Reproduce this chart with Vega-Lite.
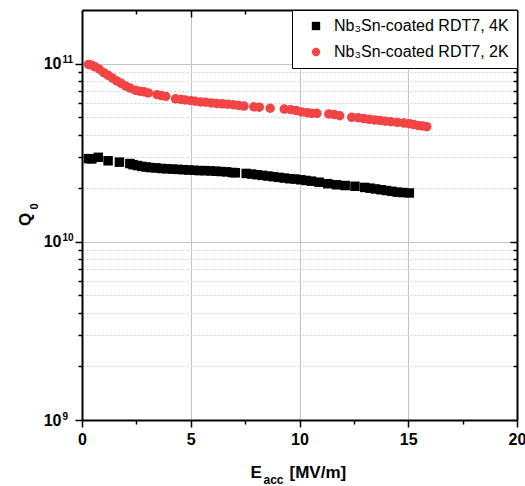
{
  "$schema": "https://vega.github.io/schema/vega-lite/v6.json",
  "width": 435,
  "height": 410,
  "autosize": {"type": "none"},
  "padding": {"left": 82, "top": 10, "right": 8, "bottom": 66},
  "background": "white",
  "config": {
    "font": "Liberation Sans",
    "view": {"stroke": null},
    "axis": {
      "domainColor": "#000000",
      "domainWidth": 2,
      "tickColor": "#000000",
      "tickWidth": 1.5,
      "labelColor": "#000000",
      "labelFont": "Liberation Sans",
      "labelFontWeight": "bold",
      "labelFontSize": 16,
      "titleColor": "#000000",
      "titleFont": "Liberation Sans",
      "titleFontWeight": "bold",
      "titleFontSize": 17
    },
    "legend": {
      "labelFont": "Liberation Sans",
      "labelFontSize": 16,
      "labelColor": "#000000",
      "labelLimit": 400
    }
  },
  "data": {
    "values": [
      {"E": 0.3, "Q": 2.93e10, "T": "4K"},
      {"E": 0.45, "Q": 2.92e10, "T": "4K"},
      {"E": 0.75, "Q": 2.98e10, "T": "4K"},
      {"E": 1.2, "Q": 2.85e10, "T": "4K"},
      {"E": 1.72, "Q": 2.8e10, "T": "4K"},
      {"E": 2.2, "Q": 2.75e10, "T": "4K"},
      {"E": 2.35, "Q": 2.71e10, "T": "4K"},
      {"E": 2.55, "Q": 2.68e10, "T": "4K"},
      {"E": 2.75, "Q": 2.65e10, "T": "4K"},
      {"E": 2.95, "Q": 2.63e10, "T": "4K"},
      {"E": 3.15, "Q": 2.61e10, "T": "4K"},
      {"E": 3.4, "Q": 2.6e10, "T": "4K"},
      {"E": 3.65, "Q": 2.58e10, "T": "4K"},
      {"E": 3.9, "Q": 2.57e10, "T": "4K"},
      {"E": 4.15, "Q": 2.56e10, "T": "4K"},
      {"E": 4.4, "Q": 2.55e10, "T": "4K"},
      {"E": 4.65, "Q": 2.54e10, "T": "4K"},
      {"E": 4.9, "Q": 2.53e10, "T": "4K"},
      {"E": 5.15, "Q": 2.52e10, "T": "4K"},
      {"E": 5.4, "Q": 2.51e10, "T": "4K"},
      {"E": 5.65, "Q": 2.51e10, "T": "4K"},
      {"E": 5.9, "Q": 2.5e10, "T": "4K"},
      {"E": 6.15, "Q": 2.49e10, "T": "4K"},
      {"E": 6.4, "Q": 2.48e10, "T": "4K"},
      {"E": 6.65, "Q": 2.47e10, "T": "4K"},
      {"E": 6.9, "Q": 2.45e10, "T": "4K"},
      {"E": 7.05, "Q": 2.44e10, "T": "4K"},
      {"E": 7.55, "Q": 2.42e10, "T": "4K"},
      {"E": 7.8, "Q": 2.4e10, "T": "4K"},
      {"E": 8.05, "Q": 2.38e10, "T": "4K"},
      {"E": 8.3, "Q": 2.36e10, "T": "4K"},
      {"E": 8.55, "Q": 2.34e10, "T": "4K"},
      {"E": 8.8, "Q": 2.32e10, "T": "4K"},
      {"E": 9.05, "Q": 2.3e10, "T": "4K"},
      {"E": 9.3, "Q": 2.28e10, "T": "4K"},
      {"E": 9.55, "Q": 2.26e10, "T": "4K"},
      {"E": 9.8, "Q": 2.25e10, "T": "4K"},
      {"E": 10.05, "Q": 2.23e10, "T": "4K"},
      {"E": 10.3, "Q": 2.21e10, "T": "4K"},
      {"E": 10.55, "Q": 2.19e10, "T": "4K"},
      {"E": 10.9, "Q": 2.16e10, "T": "4K"},
      {"E": 11.3, "Q": 2.12e10, "T": "4K"},
      {"E": 11.7, "Q": 2.09e10, "T": "4K"},
      {"E": 12.1, "Q": 2.07e10, "T": "4K"},
      {"E": 12.55, "Q": 2.05e10, "T": "4K"},
      {"E": 13.0, "Q": 2.02e10, "T": "4K"},
      {"E": 13.25, "Q": 2.0e10, "T": "4K"},
      {"E": 13.5, "Q": 1.98e10, "T": "4K"},
      {"E": 13.75, "Q": 1.96e10, "T": "4K"},
      {"E": 14.0, "Q": 1.94e10, "T": "4K"},
      {"E": 14.25, "Q": 1.92e10, "T": "4K"},
      {"E": 14.5, "Q": 1.9e10, "T": "4K"},
      {"E": 14.75, "Q": 1.89e10, "T": "4K"},
      {"E": 15.05, "Q": 1.88e10, "T": "4K"},
      {"E": 0.3, "Q": 9.9e10, "T": "2K"},
      {"E": 0.45, "Q": 9.8e10, "T": "2K"},
      {"E": 0.6, "Q": 9.6e10, "T": "2K"},
      {"E": 0.8, "Q": 9.3e10, "T": "2K"},
      {"E": 1.0, "Q": 8.9e10, "T": "2K"},
      {"E": 1.2, "Q": 8.6e10, "T": "2K"},
      {"E": 1.4, "Q": 8.3e10, "T": "2K"},
      {"E": 1.6, "Q": 8.0e10, "T": "2K"},
      {"E": 1.8, "Q": 7.75e10, "T": "2K"},
      {"E": 2.0, "Q": 7.5e10, "T": "2K"},
      {"E": 2.2, "Q": 7.3e10, "T": "2K"},
      {"E": 2.45, "Q": 7.1e10, "T": "2K"},
      {"E": 2.65, "Q": 7.0e10, "T": "2K"},
      {"E": 2.85, "Q": 6.95e10, "T": "2K"},
      {"E": 3.05, "Q": 6.85e10, "T": "2K"},
      {"E": 3.45, "Q": 6.7e10, "T": "2K"},
      {"E": 3.65, "Q": 6.62e10, "T": "2K"},
      {"E": 3.85, "Q": 6.55e10, "T": "2K"},
      {"E": 4.3, "Q": 6.35e10, "T": "2K"},
      {"E": 4.55, "Q": 6.3e10, "T": "2K"},
      {"E": 4.75, "Q": 6.25e10, "T": "2K"},
      {"E": 5.0, "Q": 6.2e10, "T": "2K"},
      {"E": 5.2, "Q": 6.15e10, "T": "2K"},
      {"E": 5.45, "Q": 6.1e10, "T": "2K"},
      {"E": 5.7, "Q": 6.07e10, "T": "2K"},
      {"E": 5.95, "Q": 6.02e10, "T": "2K"},
      {"E": 6.2, "Q": 5.98e10, "T": "2K"},
      {"E": 6.45, "Q": 5.95e10, "T": "2K"},
      {"E": 6.7, "Q": 5.92e10, "T": "2K"},
      {"E": 6.95, "Q": 5.88e10, "T": "2K"},
      {"E": 7.2, "Q": 5.83e10, "T": "2K"},
      {"E": 7.45, "Q": 5.78e10, "T": "2K"},
      {"E": 7.9, "Q": 5.72e10, "T": "2K"},
      {"E": 8.15, "Q": 5.7e10, "T": "2K"},
      {"E": 8.65, "Q": 5.62e10, "T": "2K"},
      {"E": 9.3, "Q": 5.56e10, "T": "2K"},
      {"E": 9.6, "Q": 5.52e10, "T": "2K"},
      {"E": 9.85, "Q": 5.45e10, "T": "2K"},
      {"E": 10.1, "Q": 5.36e10, "T": "2K"},
      {"E": 10.35, "Q": 5.3e10, "T": "2K"},
      {"E": 10.55, "Q": 5.26e10, "T": "2K"},
      {"E": 10.8, "Q": 5.26e10, "T": "2K"},
      {"E": 11.35, "Q": 5.22e10, "T": "2K"},
      {"E": 11.6, "Q": 5.18e10, "T": "2K"},
      {"E": 11.85, "Q": 5.1e10, "T": "2K"},
      {"E": 12.4, "Q": 5.0e10, "T": "2K"},
      {"E": 12.7, "Q": 4.97e10, "T": "2K"},
      {"E": 12.95, "Q": 4.92e10, "T": "2K"},
      {"E": 13.2, "Q": 4.87e10, "T": "2K"},
      {"E": 13.45, "Q": 4.83e10, "T": "2K"},
      {"E": 13.7, "Q": 4.8e10, "T": "2K"},
      {"E": 13.95, "Q": 4.75e10, "T": "2K"},
      {"E": 14.2, "Q": 4.72e10, "T": "2K"},
      {"E": 14.5, "Q": 4.68e10, "T": "2K"},
      {"E": 14.8, "Q": 4.64e10, "T": "2K"},
      {"E": 15.05, "Q": 4.6e10, "T": "2K"},
      {"E": 15.25, "Q": 4.55e10, "T": "2K"},
      {"E": 15.45, "Q": 4.5e10, "T": "2K"},
      {"E": 15.65, "Q": 4.47e10, "T": "2K"},
      {"E": 15.85, "Q": 4.43e10, "T": "2K"}
    ]
  },
  "resolve": {"axis": {"x": "independent", "y": "independent"}},
  "layer": [
    {
      "description": "minor grid lines and minor outer ticks on the bottom and left axes",
      "mark": {"type": "point", "opacity": 0},
      "encoding": {
        "x": {
          "field": "E",
          "type": "quantitative",
          "scale": {"domain": [0, 20], "nice": false, "zero": false},
          "axis": {
            "orient": "bottom",
            "values": [2.5, 7.5, 12.5, 17.5],
            "labels": false,
            "domain": false,
            "grid": false,
            "tickSize": 4,
            "title": null
          }
        },
        "y": {
          "field": "Q",
          "type": "quantitative",
          "scale": {"type": "log", "domain": [1e9, 2e11], "nice": false},
          "axis": {
            "orient": "left",
            "values": [2e9, 3e9, 4e9, 5e9, 6e9, 7e9, 8e9, 9e9, 2e10, 3e10, 4e10, 5e10, 6e10, 7e10, 8e10, 9e10],
            "labels": false,
            "domain": false,
            "tickSize": 4,
            "grid": true,
            "gridColor": "#d4d4d4",
            "gridDash": [2, 2],
            "gridWidth": 1,
            "title": "0",
            "titleFontSize": 11,
            "titleAngle": -90,
            "titleX": -45,
            "titleY": 196,
            "titleAlign": "center",
            "titleBaseline": "alphabetic"
          }
        }
      }
    },
    {
      "description": "powers of ten: exponents beside the left-axis labels",
      "mark": {"type": "point", "opacity": 0},
      "encoding": {
        "x": {"field": "E", "type": "quantitative", "axis": null},
        "y": {
          "field": "Q",
          "type": "quantitative",
          "axis": {
            "orient": "left",
            "values": [1e9, 1e10, 1e11],
            "labelExpr": "datum.value < 5e9 ? '9' : datum.value < 5e10 ? '10' : '11'",
            "labelFontSize": 10,
            "labelAlign": "left",
            "labelBaseline": "middle",
            "labelOffset": -4,
            "labelPadding": 20,
            "labelFlush": false,
            "ticks": false,
            "domain": false,
            "grid": false,
            "title": null
          }
        }
      }
    },
    {
      "description": "major ticks, labels, grid lines and titles on the bottom and left axes",
      "mark": {"type": "point", "opacity": 0},
      "encoding": {
        "x": {
          "field": "E",
          "type": "quantitative",
          "axis": {
            "orient": "bottom",
            "values": [0, 5, 10, 15, 20],
            "labelPadding": 4,
            "labelFlush": false,
            "tickSize": 7,
            "grid": true,
            "gridColor": "#c4c4c4",
            "gridWidth": 1,
            "title": "E",
            "titleX": 168,
            "titleY": 57,
            "titleAlign": "left",
            "titleBaseline": "alphabetic"
          }
        },
        "y": {
          "field": "Q",
          "type": "quantitative",
          "axis": {
            "orient": "left",
            "values": [1e9, 1e10, 1e11],
            "labelExpr": "'10'",
            "labelPadding": 14,
            "labelBaseline": "middle",
            "labelFlush": false,
            "tickSize": 7,
            "grid": true,
            "gridColor": "#c4c4c4",
            "gridWidth": 1,
            "title": "Q",
            "titleAngle": -90,
            "titleX": -52,
            "titleY": 209,
            "titleAlign": "center",
            "titleBaseline": "alphabetic"
          }
        }
      }
    },
    {
      "description": "inward minor ticks on the top and right edges",
      "mark": {"type": "point", "opacity": 0},
      "encoding": {
        "x": {
          "field": "E",
          "type": "quantitative",
          "axis": {
            "orient": "top",
            "values": [2.5, 7.5, 12.5, 17.5],
            "labels": false,
            "domain": false,
            "grid": false,
            "tickSize": -4,
            "title": "acc",
            "titleFontSize": 12,
            "titleX": 181,
            "titleY": 473,
            "titleAlign": "left",
            "titleBaseline": "alphabetic"
          }
        },
        "y": {
          "field": "Q",
          "type": "quantitative",
          "axis": {
            "orient": "right",
            "values": [2e9, 3e9, 4e9, 5e9, 6e9, 7e9, 8e9, 9e9, 2e10, 3e10, 4e10, 5e10, 6e10, 7e10, 8e10, 9e10],
            "labels": false,
            "domain": false,
            "grid": false,
            "tickSize": -4,
            "title": null
          }
        }
      }
    },
    {
      "description": "frame lines and inward major ticks on the top and right edges",
      "mark": {"type": "point", "opacity": 0},
      "encoding": {
        "x": {
          "field": "E",
          "type": "quantitative",
          "axis": {
            "orient": "top",
            "values": [5, 10, 15],
            "labels": false,
            "grid": false,
            "tickSize": -7,
            "title": null
          }
        },
        "y": {
          "field": "Q",
          "type": "quantitative",
          "axis": {
            "orient": "right",
            "values": [1e10, 1e11],
            "labels": false,
            "grid": false,
            "tickSize": -7,
            "title": "[MV/m]",
            "titleAngle": 0,
            "titleX": -228,
            "titleY": 467,
            "titleAlign": "left",
            "titleBaseline": "alphabetic"
          }
        }
      }
    },
    {
      "description": "measured Q0 versus accelerating gradient",
      "mark": {"type": "point", "filled": true, "opacity": 1, "size": 90},
      "encoding": {
        "x": {"field": "E", "type": "quantitative", "axis": null},
        "y": {"field": "Q", "type": "quantitative", "axis": null},
        "color": {
          "field": "T",
          "type": "nominal",
          "scale": {"domain": ["4K", "2K"], "range": ["#000000", "#f24444"]},
          "legend": {
            "title": null,
            "orient": "top-right",
            "offset": 0,
            "strokeColor": "#000000",
            "fillColor": "white",
            "padding": 8,
            "rowPadding": 10,
            "symbolSize": 70,
            "symbolOffset": 8,
            "labelOffset": 10,
            "labelExpr": "'Nb₃Sn-coated RDT7, ' + datum.label"
          }
        },
        "shape": {
          "field": "T",
          "type": "nominal",
          "scale": {"domain": ["4K", "2K"], "range": ["square", "circle"]},
          "legend": {
            "title": null,
            "orient": "top-right",
            "offset": 0,
            "strokeColor": "#000000",
            "fillColor": "white",
            "padding": 8,
            "rowPadding": 10,
            "symbolSize": 70,
            "symbolOffset": 8,
            "labelOffset": 10,
            "labelExpr": "'Nb₃Sn-coated RDT7, ' + datum.label"
          }
        }
      }
    }
  ]
}
